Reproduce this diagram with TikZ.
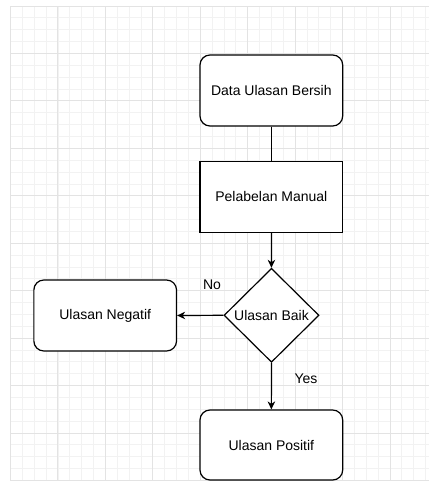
\documentclass[tikz,border=0pt]{standalone}
\usepackage{fontspec}
\setmainfont{Liberation Sans}
\usetikzlibrary{shapes.geometric,arrows.meta}

\begin{document}
\begin{tikzpicture}[x=1pt, y=-1pt,
	gridminor/.style={draw=black!5, line width=0.8pt},
	gridmajor/.style={draw=black!11, line width=1pt},
	box/.style={rectangle, draw=black, line width=1.2pt, fill=white, inner sep=0pt, minimum width=142.7pt, minimum height=71pt, font=\fontsize{14}{16}\selectfont},
	roundbox/.style={box, rounded corners=10pt},
	decision/.style={diamond, draw=black, line width=1.2pt, fill=white, inner sep=0pt, minimum width=95pt, minimum height=94pt, font=\fontsize{14}{16}\selectfont},
	lbl/.style={inner sep=0pt, font=\fontsize{14}{16}\selectfont},
	flow/.style={draw=black, line width=1.2pt, -{Stealth[length=8pt, width=7.5pt, inset=2.5pt]}}]
			\useasboundingbox (0,0) rectangle (429,481);
			\begin{scope}[shift={(10.5,6)}]
			\draw[gridminor] (0,0) grid[step=11.86pt] (418.5,475);
			\draw[gridmajor] (0,0) grid[step=47.45pt] (418.5,475);
			\end{scope}
			
			\node[roundbox] (data) at (271.35,90.5){Data Ulasan Bersih};
			\node[box] (label) at (271.35,196.6){Pelabelan Manual};
			\node[decision] (baik) at (271.5,315.3){Ulasan Baik};
			\node[roundbox] (neg) at (105.2,315.5){Ulasan Negatif};
			\node[roundbox, minimum height=70pt] (pos) at (271.35,445){Ulasan Positif};
			\node[lbl] (no) at (212,285){No};
			\node[lbl] (yes) at (306,379){Yes};
			
			\draw[line width=1.2pt] (data) -- (label);
			\path[flow] (label) -- (baik);
			\path[flow] (baik.west) -- (neg.east);
			\path[flow] (baik.south) -- (pos.north);
\end{tikzpicture}
\end{document}
